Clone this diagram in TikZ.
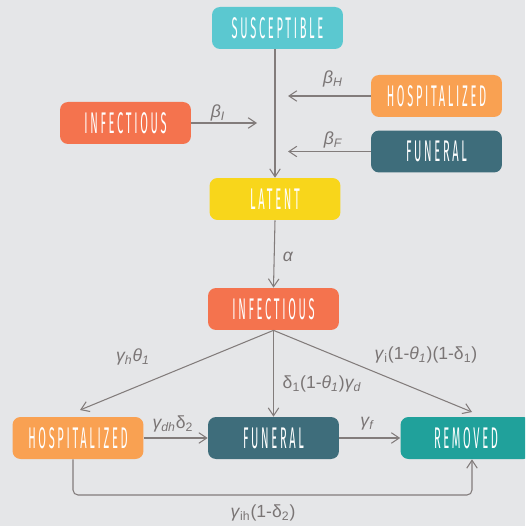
\documentclass[tikz,border=0pt]{standalone}
\usepackage{fontspec}
\setmainfont{Liberation Sans}
\newfontfamily\boxfont[FakeStretch=0.37,LetterSpace=9]{Fira Sans}
\usetikzlibrary{arrows.meta,positioning}

\definecolor{bgcol}{RGB}{229,230,232}
\definecolor{suscol}{RGB}{91,200,208}
\definecolor{hospcol}{RGB}{249,161,82}
\definecolor{funcol}{RGB}{62,109,123}
\definecolor{infcol}{RGB}{244,115,78}
\definecolor{latcol}{RGB}{248,214,27}
\definecolor{remcol}{RGB}{32,161,155}
\definecolor{linecol}{RGB}{130,124,123}
\definecolor{labcol}{RGB}{122,117,117}

\begin{document}
\begin{tikzpicture}[x=0.02cm,y=-0.02cm,
    box/.style={rounded corners=0.16cm, minimum width=2.62cm, minimum height=0.84cm,
      inner sep=0pt, text=white, font=\boxfont\fontsize{17}{17}\selectfont},
    flow/.style={draw=linecol, line width=0.6pt, -{Straight Barb[length=4.5pt,width=6pt]}},
    rate/.style={text=labcol, inner sep=0pt, font=\fontsize{10}{12}\selectfont}]
    \clip (0,0) rectangle (525,526);
    \fill [bgcol] (0,0) rectangle (525,526);
    % compartments
    \node [box, fill=suscol] (susc) at (277.5,28) {SUSCEPTIBLE};
    \node [box, fill=hospcol] (hosp1) at (436.5,96) {HOSPITALIZED};
    \node [box, fill=funcol] (fun1) at (436.5,151.5) {FUNERAL};
    \node [box, fill=infcol] (inf1) at (125.5,123) {INFECTIOUS};
    \node [box, fill=latcol] (lat) at (275,199) {LATENT};
    \node [box, fill=infcol] (inf2) at (273.5,309) {INFECTIOUS};
    \node [box, fill=hospcol] (hosp2) at (78,438) {HOSPITALIZED};
    \node [box, fill=funcol] (fun2) at (273.5,438) {FUNERAL};
    \node [box, fill=remcol] (rem) at (466,438) {REMOVED};
    % free ends
    \coordinate (mH) at (288,96);
    \coordinate (mF) at (288,151.5);
    \coordinate (mI) at (257,123);
    \coordinate (hospTop) at (80,410);
    \coordinate (remTop) at (472,412);
    % transmission
    \draw [flow] (susc.south -| lat.north) -- (lat.north);
    \draw [flow] (hosp1.west) -- (mH);
    \draw [flow] (fun1.west) -- (mF);
    \draw [flow] (inf1.east) -- (mI);
    \draw [flow] (lat.south) -- (inf2.north);
    % outcomes
    \draw [flow] (inf2.south) -- (hospTop);
    \draw [flow] (inf2.south) -- (fun2.north);
    \draw [flow] (inf2.south) -- (remTop);
    \draw [flow] (hosp2.east) -- (fun2.west);
    \draw [flow] (fun2.east) -- (rem.west);
    \draw [flow, rounded corners=0.1cm] ([xshift=-0.1cm]hosp2.south) -- (73,495) -- (472,495) -- ([xshift=0.12cm]rem.south);
    % rates
    \node [rate] (bH) at (333,79) {\textit{β\textsubscript{H}}};
    \node [rate] (bF) at (333,140) {\textit{β\textsubscript{F}}};
    \node [rate] (bI) at (218,113) {\textit{β\textsubscript{I}}};
    \node [rate] (al) at (288,257) {\textit{α}};
    \node [rate] (gh) at (133,357) {\textit{γ\textsubscript{h}θ\textsubscript{1}}};
    \node [rate] (dg) at (322,384) {δ\textsubscript{1}(1-\textit{θ\textsubscript{1}})\textit{γ\textsubscript{d}}};
    \node [rate] (gi) at (426,355) {\textit{γ}\textsubscript{i}(1-\textit{θ\textsubscript{1}})(1-δ\textsubscript{1})};
    \node [rate] (gdh) at (173,424) {\textit{γ\textsubscript{dh}}δ\textsubscript{2}};
    \node [rate] (gf) at (367,424) {\textit{γ\textsubscript{f}}};
    \node [rate] (gih) at (263,513) {\textit{γ}\textsubscript{ih}(1-δ\textsubscript{2})};
\end{tikzpicture}
\end{document}
